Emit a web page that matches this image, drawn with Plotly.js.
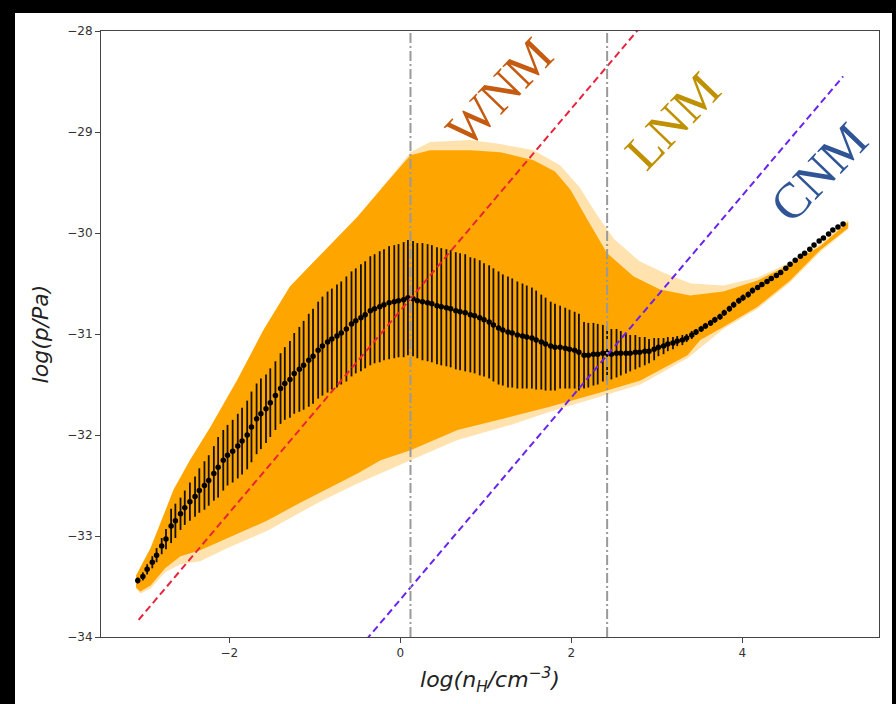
<!DOCTYPE html>
<html>
<head>
<meta charset="utf-8">
<script src="https://cdn.plot.ly/plotly-3.0.1.min.js"></script>
<style>
  html, body { margin:0; padding:0; background:#000; width:896px; height:704px; overflow:hidden; }
  #paper { position:absolute; left:15px; top:13px; width:877px; height:691px; background:#fff; }
  #chart { position:absolute; left:0; top:0; width:896px; height:704px; }
</style>
</head>
<body>
<div id="paper"></div>
<div id="chart"></div>
<script>
// ---- data ----
const binX = [-3.07,-3.01,-2.96,-2.90,-2.85,-2.79,-2.74,-2.68,-2.63,-2.57,
  -2.52,-2.46,-2.40,-2.35,-2.29,-2.24,-2.18,-2.13,-2.07,-2.02,
  -1.96,-1.90,-1.85,-1.79,-1.74,-1.68,-1.63,-1.57,-1.52,-1.46,
  -1.40,-1.35,-1.29,-1.24,-1.18,-1.13,-1.07,-1.02,-0.96,-0.91,
  -0.85,-0.80,-0.74,-0.69,-0.63,-0.57,-0.52,-0.46,-0.41,-0.35,
  -0.30,-0.24,-0.19,-0.13,-0.07,-0.02,0.04,0.09,0.15,0.20,
  0.26,0.32,0.37,0.43,0.48,0.54,0.59,0.65,0.70,0.76,
  0.82,0.87,0.93,0.98,1.04,1.09,1.15,1.20,1.26,1.31,
  1.37,1.43,1.48,1.54,1.59,1.65,1.70,1.76,1.81,1.87,
  1.93,1.98,2.04,2.09,2.15,2.20,2.26,2.31,2.37,2.42,
  2.47,2.53,2.58,2.64,2.69,2.75,2.80,2.86,2.91,2.97,
  3.02,3.08,3.13,3.19,3.24,3.30,3.35,3.41,3.46,3.52,
  3.57,3.63,3.68,3.74,3.79,3.85,3.90,3.96,4.01,4.07,
  4.12,4.18,4.23,4.29,4.34,4.40,4.45,4.51,4.56,4.62,
  4.68,4.73,4.79,4.84,4.90,4.95,5.01,5.06,5.12,5.18];
const meanP = [-33.44,-33.40,-33.33,-33.26,-33.19,-33.10,-33.03,-32.90,-32.85,-32.78,
  -32.72,-32.66,-32.61,-32.55,-32.50,-32.45,-32.38,-32.32,-32.25,-32.20,
  -32.16,-32.11,-32.06,-32.00,-31.92,-31.84,-31.79,-31.74,-31.68,-31.61,
  -31.54,-31.49,-31.45,-31.39,-31.35,-31.31,-31.26,-31.22,-31.16,-31.12,
  -31.08,-31.05,-31.02,-30.99,-30.95,-30.90,-30.87,-30.84,-30.81,-30.77,
  -30.75,-30.73,-30.71,-30.69,-30.68,-30.67,-30.66,-30.64,-30.65,-30.67,
  -30.68,-30.69,-30.70,-30.72,-30.73,-30.74,-30.75,-30.77,-30.78,-30.79,
  -30.81,-30.82,-30.84,-30.86,-30.88,-30.91,-30.94,-30.96,-30.98,-30.99,
  -31.01,-31.02,-31.03,-31.04,-31.06,-31.08,-31.10,-31.12,-31.13,-31.13,
  -31.14,-31.15,-31.16,-31.18,-31.21,-31.21,-31.20,-31.20,-31.19,-31.19,
  -31.20,-31.19,-31.19,-31.19,-31.19,-31.18,-31.18,-31.17,-31.17,-31.15,
  -31.13,-31.12,-31.10,-31.09,-31.07,-31.06,-31.04,-31.01,-30.98,-30.95,
  -30.92,-30.89,-30.86,-30.83,-30.79,-30.75,-30.71,-30.67,-30.64,-30.61,
  -30.57,-30.54,-30.51,-30.48,-30.45,-30.42,-30.39,-30.35,-30.31,-30.27,
  -30.23,-30.20,-30.16,-30.12,-30.08,-30.05,-30.01,-29.97,-29.94,-29.91];
const errP = [0.03,0.04,0.05,0.06,0.07,0.08,0.10,0.17,0.17,0.16,
  0.17,0.19,0.20,0.22,0.24,0.25,0.27,0.30,0.30,0.30,
  0.31,0.32,0.33,0.34,0.35,0.35,0.35,0.34,0.34,0.34,
  0.35,0.36,0.38,0.40,0.42,0.44,0.46,0.47,0.48,0.49,
  0.50,0.50,0.51,0.51,0.52,0.52,0.52,0.53,0.53,0.54,
  0.54,0.55,0.55,0.56,0.56,0.56,0.57,0.57,0.57,0.57,
  0.58,0.58,0.58,0.58,0.58,0.58,0.58,0.58,0.58,0.58,
  0.57,0.57,0.57,0.56,0.56,0.56,0.56,0.55,0.55,0.54,
  0.53,0.52,0.51,0.50,0.49,0.47,0.46,0.44,0.43,0.41,
  0.40,0.39,0.38,0.38,0.33,0.32,0.31,0.30,0.28,0.27,
  0.25,0.24,0.22,0.20,0.18,0.17,0.15,0.14,0.12,0.11,
  0.09,0.08,0.07,0.06,0.05,0.05,0.04,0.04,0.03,0.03,
  0.03,0.03,0.03,0.03,0.03,0.03,0.03,0.03,0.03,0.03,
  0.03,0.02,0.02,0.02,0.02,0.02,0.02,0.02,0.02,0.02,
  0.02,0.02,0.02,0.02,0.02,0.02,0.02,0.02,0.02,0.02];

// outline of the dense orange point cloud
const cloudX = [-3.09,-2.92,-2.65,-2.46,-2.22,-1.91,-1.60,-1.29,-0.88,-0.50,-0.18,0.12,
  0.35,0.82,1.17,1.56,1.81,1.99,2.19,2.42,2.73,3.04,3.39,3.78,4.18,4.56,4.91,5.24,
  5.24,4.91,4.56,4.18,3.78,3.51,3.36,3.04,2.81,2.34,1.75,1.29,0.67,0.12,-0.23,-0.50,
  -0.94,-1.17,-1.56,-2.02,-2.34,-2.57,-2.75,-2.92,-3.04,-3.09];
const cloudY = [-33.39,-33.12,-32.54,-32.25,-31.92,-31.46,-30.96,-30.53,-30.17,-29.84,-29.52,-29.23,
  -29.18,-29.18,-29.20,-29.28,-29.39,-29.57,-29.87,-30.20,-30.43,-30.56,-30.62,-30.58,-30.47,-30.31,-30.13,-29.89,
  -29.95,-30.17,-30.47,-30.73,-30.93,-31.06,-31.21,-31.36,-31.46,-31.58,-31.72,-31.82,-31.95,-32.15,-32.25,-32.38,
  -32.57,-32.67,-32.85,-33.02,-33.14,-33.20,-33.32,-33.49,-33.55,-33.51];
// outline of the sparse fringe of scattered points
const fringeX = [-3.09,-2.92,-2.65,-2.46,-2.22,-1.91,-1.60,-1.29,-0.88,-0.50,-0.18,0.12,
  0.35,0.82,1.17,1.56,1.87,2.10,2.30,2.50,2.80,3.10,3.40,3.78,4.18,4.56,4.91,5.24,
  5.24,4.91,4.56,4.18,3.78,3.36,2.81,2.34,1.75,1.29,0.67,0.12,-0.50,-0.94,-1.56,
  -2.02,-2.34,-2.57,-2.75,-2.92,-3.04,-3.09];
const fringeY = [-33.39,-33.12,-32.54,-32.25,-31.92,-31.46,-30.96,-30.53,-30.17,-29.84,-29.52,-29.20,
  -29.10,-29.08,-29.12,-29.18,-29.33,-29.55,-29.82,-30.06,-30.28,-30.40,-30.50,-30.52,-30.44,-30.29,-30.11,-29.87,
  -29.96,-30.19,-30.49,-30.75,-30.95,-31.24,-31.50,-31.62,-31.77,-31.90,-32.05,-32.25,-32.48,-32.66,-32.95,
  -33.12,-33.25,-33.28,-33.36,-33.52,-33.57,-33.52];

// reference lines
const lineX = [-3.06, 5.18];
const wnmLine = [-33.83, -25.59];
const cnmLine = [-36.69, -28.45];
const phaseBounds = [0.12, 2.42];

// phase labels
const phaseNames = ['WNM', 'LNM', 'CNM'];
const phaseX = [1.16, 3.18, 4.90];
const phaseY = [-28.60, -28.89, -29.40];
const phaseColors = ['#c55a11', '#bf9000', '#2f5597'];

const xTicks = [-2, 0, 2, 4];
const yTicks = [-34, -33, -32, -31, -30, -29, -28];

// ---- traces ----
const traces = [
  {x: fringeX, y: fringeY, type: 'scatter', mode: 'lines', fill: 'toself',
   fillcolor: 'rgba(255,165,0,0.32)', line: {width: 0}, hoverinfo: 'skip', showlegend: false},
  {x: cloudX, y: cloudY, type: 'scatter', mode: 'lines', fill: 'toself',
   fillcolor: '#FFA500', line: {width: 0, color: '#FFA500'}, hoverinfo: 'skip', showlegend: false},
  {x: binX, y: meanP, type: 'scatter', mode: 'markers',
   marker: {color: '#000', size: 5.5},
   error_y: {type: 'data', array: errP, visible: true, color: '#111', thickness: 1.8, width: 0},
   showlegend: false},
  {x: lineX, y: wnmLine, type: 'scatter', mode: 'lines',
   line: {color: '#e8243c', width: 2, dash: '7px,4px'}, showlegend: false},
  {x: lineX, y: cnmLine, type: 'scatter', mode: 'lines',
   line: {color: '#6a23ee', width: 2, dash: '7px,4px'}, showlegend: false}
];

const shapes = phaseBounds.map(v => ({
  type: 'line', xref: 'x', yref: 'paper', x0: v, x1: v, y0: 0, y1: 1, layer: 'above',
  line: {color: '#9a9a9a', width: 2, dash: '10px,3px,2px,3px'}
}));

const annotations = phaseNames.map((t, i) => ({
  x: phaseX[i], y: phaseY[i], xref: 'x', yref: 'y', text: t, showarrow: false,
  textangle: -46, font: {family: 'Liberation Serif, Times New Roman, serif', size: 50, color: phaseColors[i]}
}));

const axisCommon = {
  showgrid: false, zeroline: false, showline: true, mirror: true,
  linecolor: '#444', linewidth: 1, ticks: 'outside', ticklen: 5, tickwidth: 1, tickcolor: '#444',
  tickfont: {family: 'DejaVu Sans, sans-serif', size: 12, color: '#333'}
};

const layout = {
  width: 896, height: 704,
  margin: {l: 101, r: 17, t: 31, b: 67},
  paper_bgcolor: 'rgba(0,0,0,0)', plot_bgcolor: '#fff',
  xaxis: Object.assign({}, axisCommon, {
    range: [-3.5, 5.6], tickvals: xTicks,
    title: {text: '<i>log(n<sub>H</sub>/cm<sup>−3</sup>)</i>', standoff: 12,
            font: {family: 'DejaVu Sans, sans-serif', size: 22, color: '#222'}}
  }),
  yaxis: Object.assign({}, axisCommon, {
    range: [-34, -28], tickvals: yTicks,
    title: {text: '<i>log(p/Pa)</i>', standoff: 12,
            font: {family: 'DejaVu Sans, sans-serif', size: 22, color: '#222'}}
  }),
  shapes: shapes,
  annotations: annotations,
  showlegend: false
};

Plotly.newPlot('chart', traces, layout, {displayModeBar: false, staticPlot: true});
</script>
</body>
</html>
